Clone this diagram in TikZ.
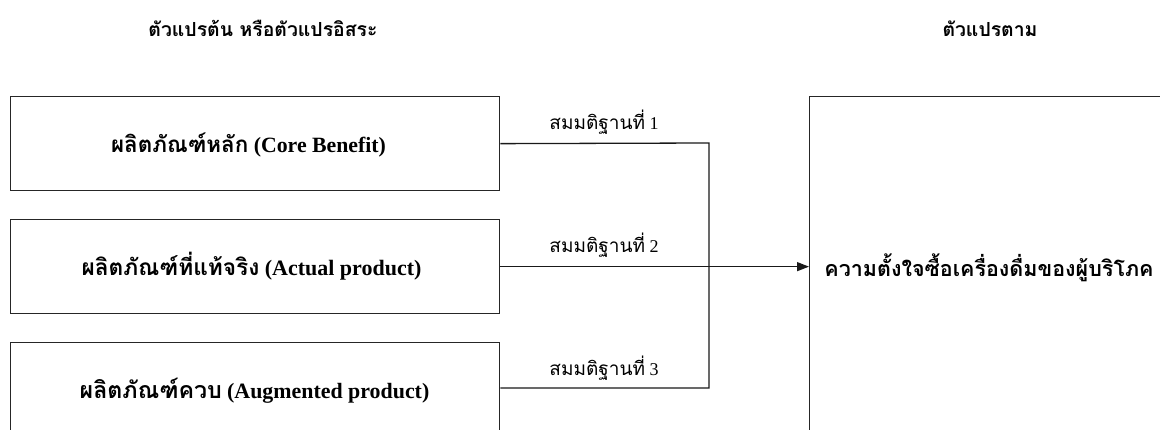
\documentclass[tikz,border=0pt]{standalone}
\usepackage{fontspec}
\setmainfont{Liberation Serif}
\newfontfamily\thai[Script=Thai]{Loma}
\usetikzlibrary{arrows.meta}
\newcommand{\thaitxt}[2]{{\fontsize{#1}{#1}\selectfont\thai #2}}
\newcommand{\engtxt}[2]{{\fontsize{#1}{#1}\selectfont #2}}
\tikzset{
  box/.style={draw=black!85, line width=1.3pt, anchor=north west, minimum width=489pt, minimum height=94pt, inner sep=0pt},
  conn/.style={draw=black!90, line width=1.3pt},
  lbl/.style={anchor=base, inner sep=0pt, font=\fontsize{18}{20}\selectfont},
  bold/.style={anchor=base, inner sep=0pt, font=\fontsize{21.3}{22}\selectfont\bfseries}
}
\begin{document}
\begin{tikzpicture}[x=1pt,y=-1pt]
\useasboundingbox (0,0) rectangle (1160,430);
\clip (0,0) rectangle (1160,430);
\fill[white] (0,0) rectangle (1160,430);
% boxes
\node[box] (b1) at (10,96) {};
\node[box] (b2) at (10,219) {};
\node[box] (b3) at (10,342) {};
\node[box, minimum width=400pt, minimum height=400pt] (dv) at (809,96) {};
% texts
\node[bold] (h1) at (263,37) {\thaitxt{19.4}{ตัวแปรต้น หรือตัวแปรอิสระ}};
\node[bold] (h2) at (990,37) {\thaitxt{19.4}{ตัวแปรตาม}};
\node[bold] (t1) at (248.5,153) {\thaitxt{22.4}{ผลิตภัณฑ์หลัก} \engtxt{21.8}{(Core Benefit)}};
\node[bold] (t2) at (251.5,276) {\thaitxt{22.7}{ผลิตภัณฑ์ที่แท้จริง} \engtxt{22}{(Actual product)}};
\node[bold] (t3) at (254.5,399) {\thaitxt{23.2}{ผลิตภัณฑ์ควบ} \engtxt{21.9}{(Augmented product)}};
\node[bold] (t4) at (989,277) {\thaitxt{21.5}{ความตั้งใจซื้อเครื่องดื่มของผู้บริโภค}};
% connectors
\coordinate (j1) at (709,143);
\coordinate (j3) at (709,388);
\draw[conn] (b1.east) -- (j1) -- (j3) -- (b3.east |- j3);
\draw[conn, -{Triangle[length=12pt,width=9pt]}] (b2.east) -- (dv.west |- b2.east);
% labels
\node[lbl] (l1) at (604,130) {\thaitxt{19}{สมมติฐานที่} 1};
\node[lbl] (l2) at (604,253) {\thaitxt{19}{สมมติฐานที่} 2};
\node[lbl] (l3) at (604,376) {\thaitxt{19}{สมมติฐานที่} 3};
\end{tikzpicture}
\end{document}
